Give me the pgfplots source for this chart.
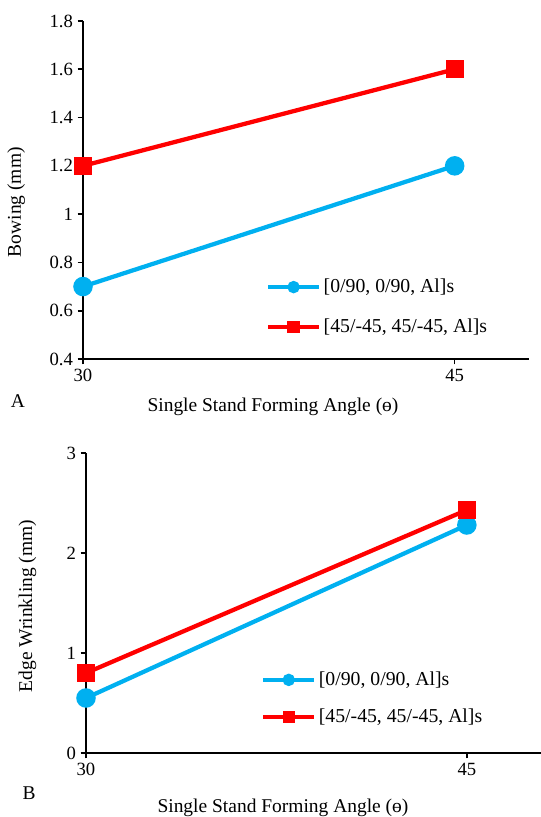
\documentclass[border=0pt]{standalone}
\usepackage{fontspec}
\setmainfont{Liberation Serif}
\usepackage{pgfplots}
\pgfplotsset{compat=1.18}
\definecolor{cblue}{RGB}{0,176,240}
\definecolor{cred}{RGB}{255,0,0}
\pgfplotsset{
  mystyle/.style={
    scale only axis, axis lines=left, axis line style={-, line width=2pt},
    tick style={line width=1.2pt, black}, tick align=outside, major tick length=4pt,
    clip=false, enlargelimits=false, xtick={30,45},
    ticklabel style={font=\fontsize{14}{16}\selectfont},
    label style={font=\fontsize{14.6}{17}\selectfont},
    /pgf/number format/assume math mode=true,
    /pgf/number format/fixed, /pgf/number format/precision=1,
    legend style={draw=none, fill=none, font=\fontsize{14.8}{17}\selectfont, inner sep=0pt, anchor=west},
    legend cell align=left,
    legend image code/.code={\draw[mark repeat=2,mark phase=2,#1] plot coordinates {(0pt,0pt) (19pt,0pt) (38pt,0pt)};},
    legend image post style={mark size=3pt},
  },
  blueline/.style={color=cblue, line width=3.2pt, mark=*, mark size=5.7pt, mark options={solid}},
  redline/.style={color=cred, line width=3.2pt, mark=square*, mark size=5.2pt, mark options={solid}},
}
\begin{document}
\begin{tikzpicture}
\useasboundingbox (0pt,0pt) rectangle (405pt,612.75pt);
\begin{axis}[mystyle, at={(62.25pt,343.5pt)}, anchor=origin, width=334.5pt, height=253.5pt,
  xmin=30, xmax=48, ymin=0.4, ymax=1.8, ytick={0.4,0.6,...,1.8},
  xlabel={Single Stand Forming Angle (ө)}, ylabel={Bowing (mm)},
  xlabel style={at={(axis description cs:0.426,-0.142)}, anchor=center},
  ylabel style={at={(axis description cs:-0.150,0.464)}, anchor=center},
  legend style={at={(axis description cs:0.41,0.154)}, row sep=14pt},
]
\addplot[blueline] coordinates {(30,0.7) (45,1.2)};
\addlegendentry{[0/90, 0/90, Al]s}
\addplot[redline] coordinates {(30,1.2) (45,1.6)};
\addlegendentry{[45/-45, 45/-45, Al]s}
\end{axis}
\node[font=\fontsize{14.6}{17}\selectfont] at (13.5pt,312pt) {A};
\begin{axis}[mystyle, at={(64.5pt,48pt)}, anchor=origin, width=342.75pt, height=225pt,
  xmin=30, xmax=48, ymin=0, ymax=3, ytick={0,1,2,3},
  xlabel={Single Stand Forming Angle (ө)}, ylabel={Edge Wrinkling (mm)},
  xlabel style={at={(axis description cs:0.431,-0.183)}, anchor=center},
  ylabel style={at={(axis description cs:-0.128,0.49)}, anchor=center},
  legend style={at={(axis description cs:0.383,0.182)}, row sep=12pt},
]
\addplot[blueline] coordinates {(30,0.55) (45,2.28)};
\addlegendentry{[0/90, 0/90, Al]s}
\addplot[redline] coordinates {(30,0.8) (45,2.43)};
\addlegendentry{[45/-45, 45/-45, Al]s}
\end{axis}
\node[font=\fontsize{14.6}{17}\selectfont] at (21.75pt,18pt) {B};
\end{tikzpicture}
\end{document}
